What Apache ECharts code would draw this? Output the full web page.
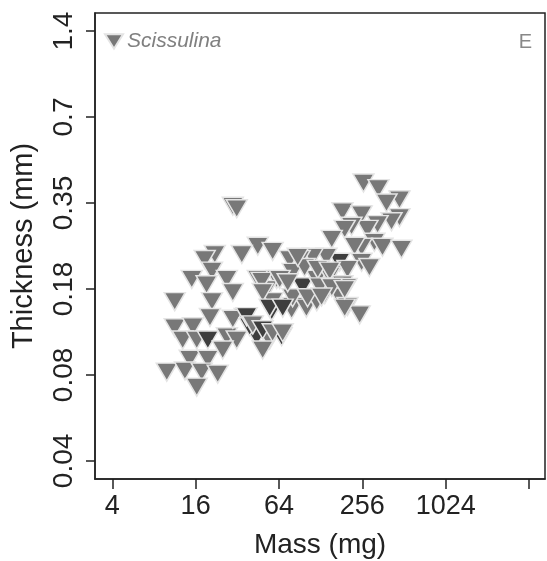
<!DOCTYPE html>
<html>
<head>
<meta charset="utf-8">
<script src="https://cdn.jsdelivr.net/npm/echarts@6/dist/echarts.min.js"></script>
<style>
  html, body { margin: 0; padding: 0; background: #fff; }
  #chart { width: 547px; height: 561px; }
</style>
</head>
<body>
<div id="chart"></div>
<script>
// mass (mg) and shell thickness (mm)
var massMg = [
  261, 335, 475, 383, 184, 253, 475, 416, 330, 279, 214, 191, 154, 313, 358, 491,
  253, 225, 175, 141, 112, 90.3, 253, 288, 200, 94.8, 120, 149, 184, 175, 200, 245,
  80.3, 29.7, 31.7, 45.0, 57.6, 34.5, 22.0, 18.6, 21.0, 15.0, 19.2, 26.9, 45.0, 61.6,
  11.3, 21.0, 29.7, 52.2, 76.5, 80.3, 20.3, 11.3, 15.3, 12.9, 16.3, 19.6, 26.9, 31.7,
  44.2, 54.8, 66.9, 36.2, 29.7, 39.3, 48.8, 14.5, 19.6, 9.9, 13.4, 17.7, 23.1, 16.3,
  25.1, 48.0, 64.8, 56.7, 79.0, 37.4, 41.4, 48.8, 57.6, 68.1, 101, 120, 137, 57.6,
  80.3, 48.8, 191, 197, 98.0, 122, 149, 74.0, 126, 154, 191, 103, 130, 54.8, 68.1, 87.4
];
var thicknessMm = [
  0.411, 0.393, 0.359, 0.350, 0.326, 0.318, 0.311, 0.301, 0.294, 0.283, 0.290, 0.283, 0.261, 0.255, 0.245, 0.241,
  0.245, 0.247, 0.217, 0.226, 0.226, 0.222, 0.217, 0.208, 0.205, 0.178, 0.189, 0.194, 0.181, 0.164, 0.152, 0.142,
  0.152, 0.341, 0.334, 0.247, 0.237, 0.231, 0.231, 0.222, 0.202, 0.189, 0.181, 0.189, 0.189, 0.189,
  0.158, 0.158, 0.170, 0.174, 0.222, 0.200, 0.139, 0.128, 0.129, 0.116, 0.116, 0.116, 0.119, 0.116,
  0.119, 0.116, 0.119, 0.139, 0.137, 0.129, 0.107, 0.0993, 0.0993, 0.0895, 0.0903, 0.0895, 0.0881, 0.0793,
  0.107, 0.186, 0.189, 0.146, 0.148, 0.140, 0.131, 0.126, 0.123, 0.123, 0.150, 0.158, 0.167, 0.158,
  0.163, 0.170, 0.150, 0.177, 0.208, 0.205, 0.202, 0.184, 0.178, 0.177, 0.174, 0.163, 0.164, 0.150, 0.150, 0.226
];
// 1 = darker triangle
var darkFlag = [
  0, 0, 0, 0, 0, 0, 0, 0, 0, 0, 0, 0, 0, 0, 0, 0,
  0, 0, 1, 0, 0, 0, 0, 0, 0, 1, 0, 0, 0, 0, 0, 0,
  1, 0, 0, 0, 0, 0, 0, 0, 0, 0, 0, 0, 0, 0,
  0, 0, 0, 0, 0, 0, 0, 0, 0, 0, 0, 1, 0, 0,
  1, 0, 1, 1, 0, 1, 0, 0, 0, 0, 0, 0, 0, 0,
  0, 0, 0, 1, 0, 1, 0, 1, 0, 0, 0, 0, 0, 0,
  0, 0, 0, 0, 0, 0, 0, 0, 0, 0, 0, 0, 0, 1, 1, 0
];
var massTicks = [4, 16, 64, 256, 1024, 4096];
var massLabels = [4, 16, 64, 256, 1024];
var thickTicks = [1.4, 0.7, 0.35, 0.175, 0.0875, 0.04375];
var thickLabels = ['1.4', '0.7', '0.35', '0.18', '0.08', '0.04'];

var font = 'Liberation Sans, Arial, Helvetica, sans-serif';
var triangle = 'path://M0,0L20,0L10,16Z';

var points = massMg.map(function (m, i) {
  var p = { value: [Math.log2(m), Math.log2(thicknessMm[i])] };
  if (darkFlag[i]) p.itemStyle = { color: '#3e3e3e' };
  return p;
});

var chart = echarts.init(document.getElementById('chart'));
chart.setOption({
  animation: false,
  textStyle: { fontFamily: font },
  grid: {
    left: 95, right: 2, top: 13, bottom: 82,
    outerBoundsMode: 'none', containLabel: false,
    show: true, borderColor: '#222', borderWidth: 1.5, backgroundColor: '#fff'
  },
  title: {
    text: 'E', right: 10, top: 27,
    textStyle: { fontSize: 20, fontWeight: 'normal', color: '#888', fontFamily: font }
  },
  legend: {
    left: 104, top: 31, padding: 0, selectedMode: false,
    icon: triangle, itemWidth: 18, itemHeight: 16, itemGap: 4,
    textStyle: { fontSize: 21, fontStyle: 'italic', color: '#808080', fontFamily: font, padding: [0, 0, 0, -1] }
  },
  xAxis: {
    type: 'value', min: 1.585, max: 12.384,
    name: 'Mass (mg)', nameLocation: 'middle', nameGap: 52,
    nameTextStyle: { fontSize: 28, color: '#222', fontFamily: font },
    axisLine: { show: true, onZero: false, lineStyle: { color: '#222', width: 1.5 } },
    axisTick: { show: true, length: 10, lineStyle: { color: '#222', width: 1.5 },
      customValues: massTicks.map(Math.log2) },
    axisLabel: { fontSize: 27, color: '#222', margin: 14,
      customValues: massLabels.map(Math.log2),
      formatter: function (v) { return String(Math.round(Math.pow(2, v))); } },
    splitLine: { show: false }
  },
  yAxis: {
    type: 'value', min: -4.725, max: 0.695,
    name: 'Thickness (mm)', nameLocation: 'middle', nameGap: 57,
    nameTextStyle: { fontSize: 29, color: '#222', fontFamily: font },
    axisLine: { show: true, onZero: false, lineStyle: { color: '#222', width: 1.5 } },
    axisTick: { show: true, length: 9, lineStyle: { color: '#222', width: 1.5 },
      customValues: thickTicks.map(Math.log2) },
    axisLabel: { fontSize: 28, color: '#222', margin: 17, rotate: 90,
      customValues: thickTicks.map(Math.log2),
      formatter: function (v) {
        var k = Math.round(Math.log2(1.4) - v);
        return thickLabels[k];
      } },
    splitLine: { show: false }
  },
  series: [{
    name: 'Scissulina',
    type: 'scatter',
    symbol: triangle,
    symbolSize: [21, 18],
    itemStyle: { color: '#787878', borderColor: '#e4e4e4', borderWidth: 1.5, opacity: 1 },
    data: points
  }]
});
</script>
</body>
</html>
